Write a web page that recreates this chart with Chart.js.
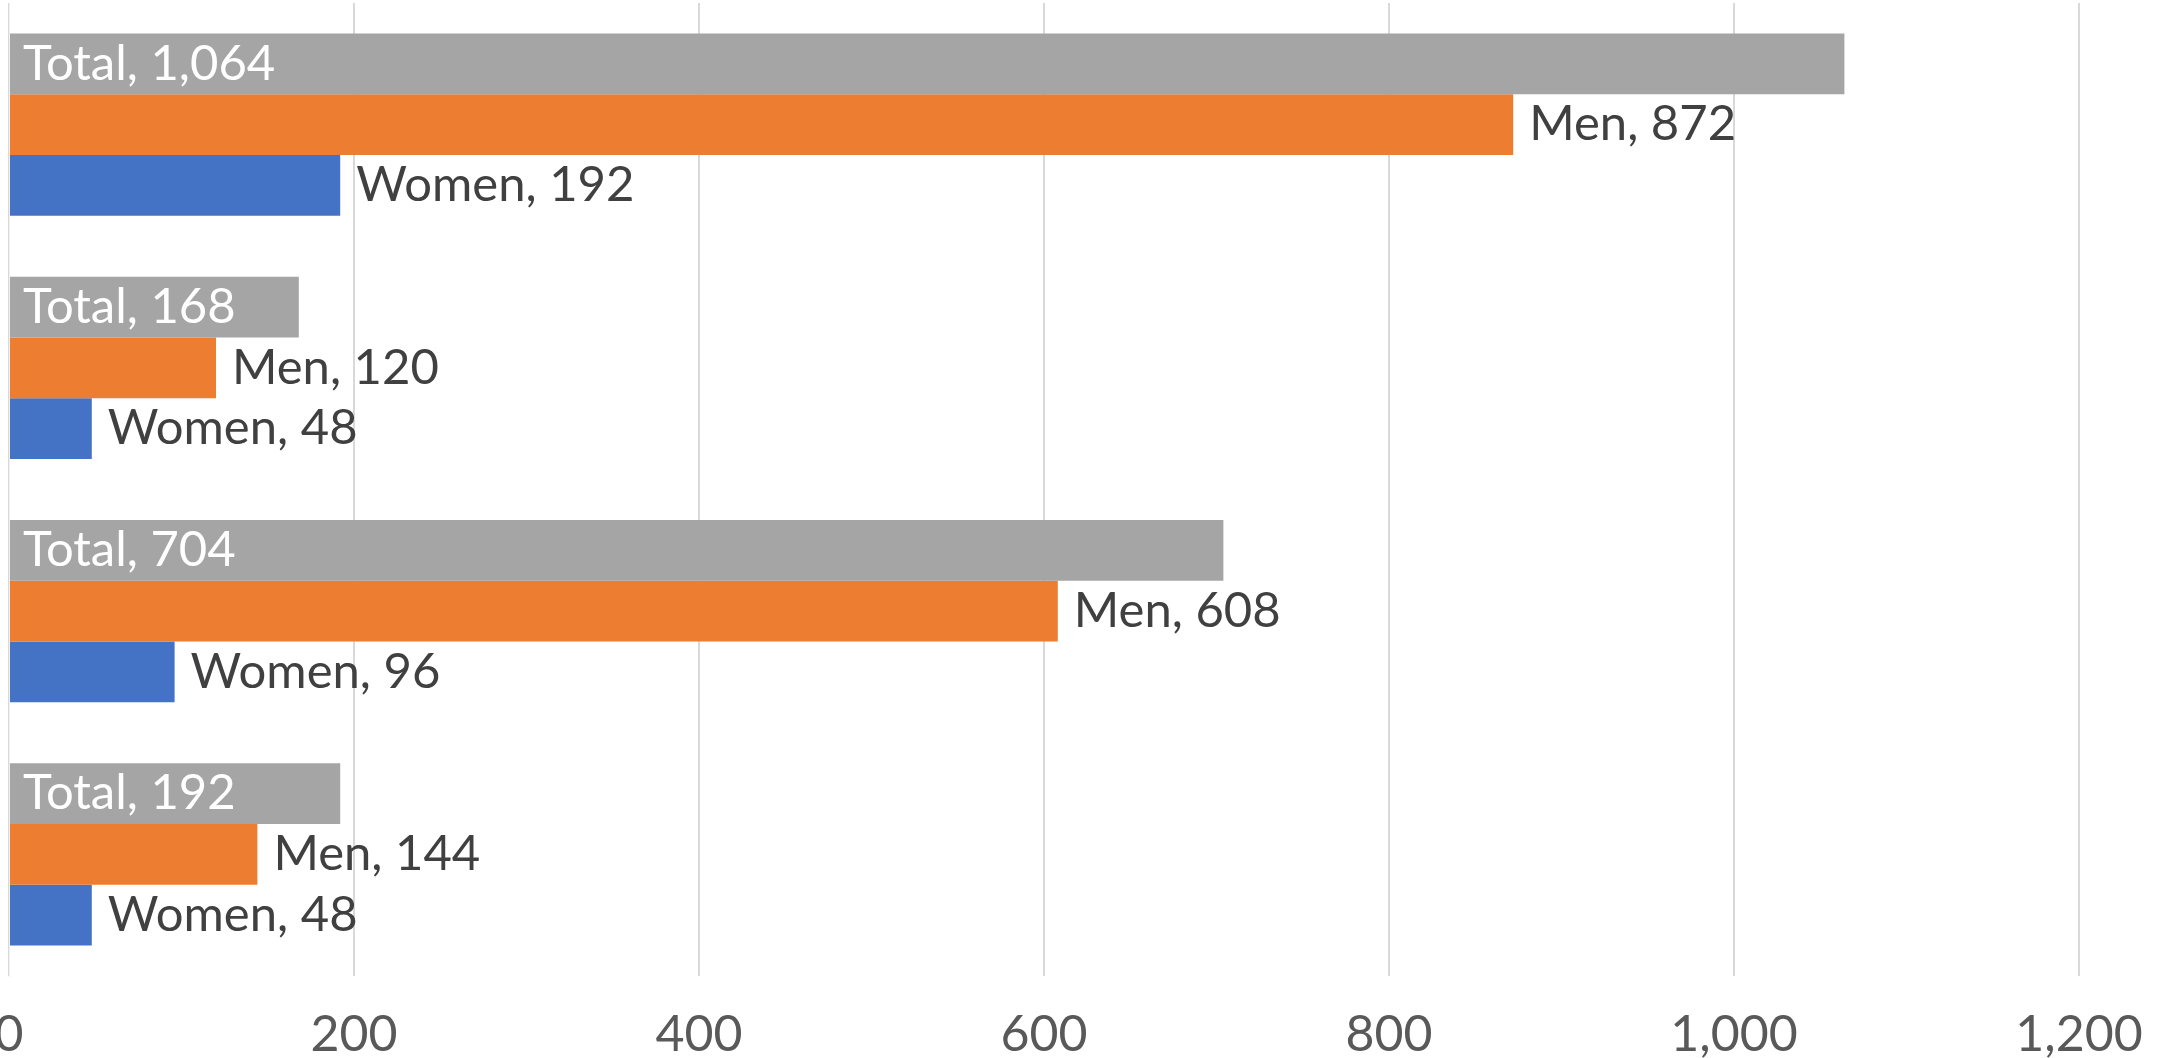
<!DOCTYPE html>
<html>
<head>
<meta charset="utf-8">
<script src="https://cdn.jsdelivr.net/npm/chart.js@4"></script>
<style>
    body { margin: 0; background: #fff; }
    canvas { display: block; }
</style>
</head>
<body>
<canvas id="genderChart" width="2169" height="1058"></canvas>
<script>
// 데이터
const categories = ['Group 1', 'Group 2', 'Group 3', 'Group 4'];
const totalValues = [1064, 168, 704, 192];
const menValues = [872, 120, 608, 144];
const womenValues = [192, 48, 96, 48];
const xTickValues = [0, 200, 400, 600, 800, 1000, 1200];

const labelFont = '49px Lato';

// 막대 라벨 (Total은 안쪽, 나머지는 바깥쪽)
const barLabels = {
    id: 'barLabels',
    afterDatasetsDraw(chart) {
        const ctx = chart.ctx;
        chart.data.datasets.forEach(function (ds, i) {
            const meta = chart.getDatasetMeta(i);
            meta.data.forEach(function (bar, j) {
                const text = ds.label + ', ' + ds.data[j].toLocaleString('en-US');
                ctx.save();
                ctx.font = labelFont;
                ctx.textBaseline = 'middle';
                ctx.textAlign = 'left';
                if (ds.label === 'Total') {
                    ctx.fillStyle = '#ffffff';
                    ctx.fillText(text, bar.base + 13, bar.y);
                } else {
                    ctx.fillStyle = '#404040';
                    ctx.fillText(text, bar.x + 16, bar.y);
                }
                ctx.restore();
            });
        });
    }
};

new Chart(document.getElementById('genderChart'), {
    type: 'bar',
    data: {
        labels: categories,
        datasets: [{
            label: 'Total',
            data: totalValues,
            backgroundColor: '#A5A5A5'
        }, {
            label: 'Men',
            data: menValues,
            backgroundColor: '#ED7D31'
        }, {
            label: 'Women',
            data: womenValues,
            backgroundColor: '#4472C4'
        }]
    },
    options: {
        indexAxis: 'y',
        responsive: false,
        animation: false,
        layout: {
            padding: { left: 9, right: 90, top: 3, bottom: 0 }
        },
        datasets: {
            bar: {
                categoryPercentage: 0.75,
                barPercentage: 1
            }
        },
        scales: {
            x: {
                min: 0,
                max: 1200,
                afterBuildTicks: function (scale) {
                    scale.ticks = xTickValues.map(v => ({ value: v }));
                },
                afterFit: function (scale) {
                    scale.paddingLeft = 0;
                    scale.paddingRight = 0;
                    scale.height = 82;
                },
                ticks: {
                    padding: 29,
                    color: '#595959',
                    font: { family: 'Lato', size: 50 },
                    maxRotation: 0,
                    autoSkip: false,
                    callback: function (value) {
                        return Number(value).toLocaleString('en-US');
                    }
                },
                grid: {
                    color: '#d9d9d9',
                    lineWidth: 2,
                    drawTicks: false
                },
                border: { display: false }
            },
            y: {
                afterFit: function (scale) {
                    scale.width = 0;
                },
                ticks: { display: false },
                grid: { display: false },
                border: { color: '#f0f0f0', width: 1 }
            }
        },
        plugins: {
            legend: { display: false },
            tooltip: { enabled: false }
        }
    },
    plugins: [barLabels]
});
</script>
</body>
</html>
